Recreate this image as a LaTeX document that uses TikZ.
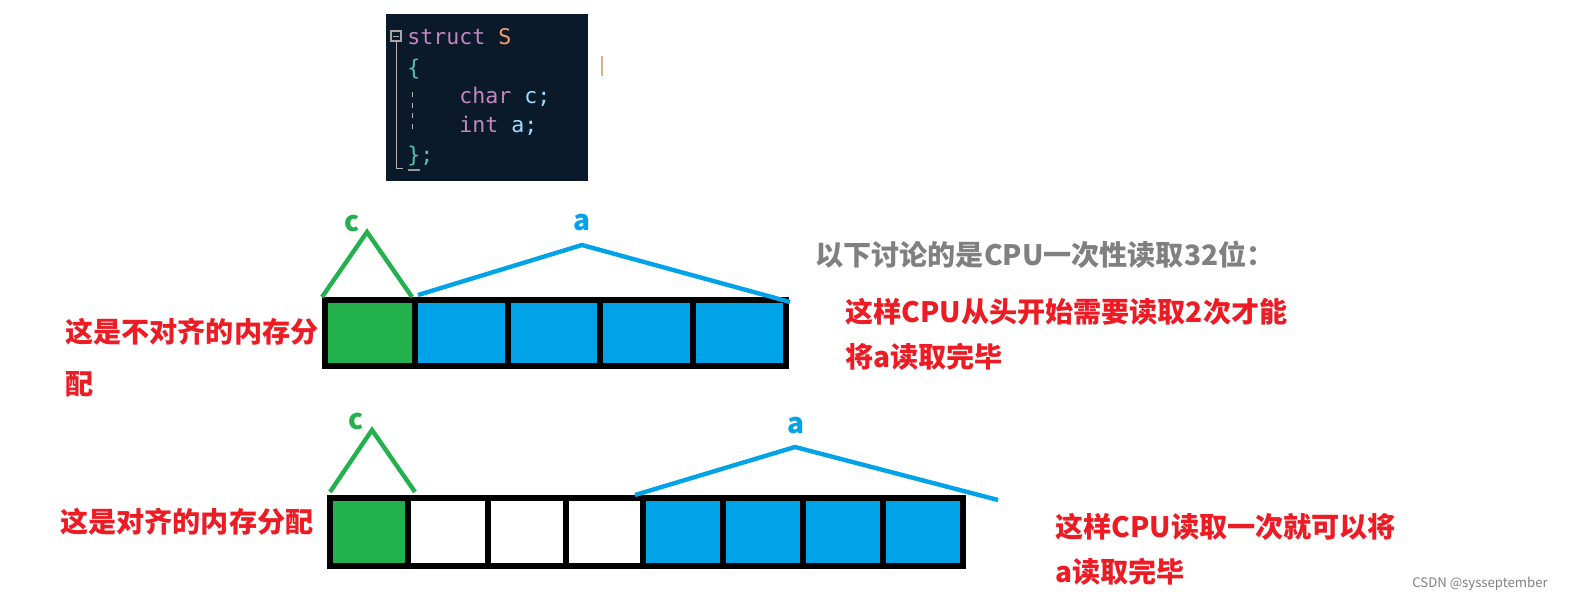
\documentclass[tikz,border=0pt]{standalone}
\usepackage{fontspec}
\newfontfamily\cjk{Noto Sans CJK SC}
\newfontfamily\mono{DejaVu Sans Mono}
\definecolor{gr}{HTML}{22B14C}
\definecolor{bl}{HTML}{00A2E8}
\definecolor{rd}{HTML}{ED1C24}
\definecolor{codebg}{HTML}{0B1A2A}
\definecolor{kw}{HTML}{C586C0}
\definecolor{id}{HTML}{9CDCFE}
\definecolor{br}{HTML}{4EC9B0}
\definecolor{sn}{HTML}{F0A070}
\begin{document}
\begin{tikzpicture}[x=0.02cm,y=-0.02cm,
  cell/.style={draw=black,line width=3.5pt},
  lbl/.style={font=\cjk\bfseries\fontsize{16pt}{18pt}\selectfont,anchor=west,inner sep=0},
  code/.style={font=\mono\fontsize{12.3pt}{14pt}\selectfont,anchor=west,inner sep=0}]
% code box
\fill[codebg] (386,14) rectangle (588,181);
\draw[gray!70,line width=0.6pt] (391,31) rectangle (401,41); \draw[gray!70] (393,36)--(399,36);
\draw[gray!60] (396,41)--(396,168)--(403,168);
\draw[gray!60,dashed] (412,92)--(412,132);
\node[code] (l1) at (407,37) {\textcolor{kw}{struct} \textcolor{sn}{S}};
\node[code] (l2) at (407,69) {\textcolor{br}{\{}};
\node[code] (l3) at (459,97) {\textcolor{kw}{char} \textcolor{id}{c;}};
\node[code] (l4) at (459,126) {\textcolor{kw}{int} \textcolor{id}{a;}};
\node[code] (l5) at (407,156) {\textcolor{br}{\};}};
\draw[gray!80,line width=1pt] (408,170)--(420,170);
\draw[brown!60,line width=1pt] (602,56)--(602,76);
% row 1
\foreach \a/\b/\c [count=\i] in {322/412/gr,412/505/bl,505/597/bl,597/690/bl,690/783/bl}
  \node[cell,fill=\c,minimum width=(\b-\a)*0.02cm,minimum height=66*0.02cm,inner sep=0,anchor=north west] (r1\i) at (\a,297) {};
\coordinate (c1) at (367,232);
\draw[gr,line width=2.5pt] (322,297)--(c1)--(412,297);
\coordinate (a1) at (582,245);
\draw[bl,line width=2.5pt] (418,295)--(a1)--(790,302);
\node[lbl,gr,anchor=center] (tc1) at (352,224) {c};
\node[lbl,bl,anchor=center] (ta1) at (582,222) {a};
% row 2
\foreach \a/\b/\c [count=\i] in {327/405/gr,405/485/white,485/563/white,563/640/white,640/720/bl,720/800/bl,800/880/bl,880/960/bl}
  \node[cell,fill=\c,minimum width=(\b-\a)*0.02cm,minimum height=68*0.02cm,inner sep=0,anchor=north west] (r2\i) at (\a,495) {};
\coordinate (c2) at (372,430);
\draw[gr,line width=2.5pt] (330,492)--(c2)--(415,492);
\coordinate (a2) at (795,447);
\draw[bl,line width=2.5pt] (635,495)--(a2)--(998,500);
\node[lbl,gr,anchor=center] (tc2) at (356,421) {c};
\node[lbl,bl,anchor=center] (ta2) at (796,425) {a};
% texts
\node[lbl,rd] (t1) at (65,332) {这是不对齐的内存分};
\node[lbl,rd] (t2) at (65,384) {配};
\node[lbl,gray] (t3) at (815,255) {以下讨论的是CPU一次性读取32位：};
\node[lbl,rd] (t4) at (845,312) {这样CPU从头开始需要读取2次才能};
\node[lbl,rd] (t5) at (845,357) {将a读取完毕};
\node[lbl,rd] (t6) at (60,522) {这是对齐的内存分配};
\node[lbl,rd] (t7) at (1055,527) {这样CPU读取一次就可以将};
\node[lbl,rd] (t8) at (1055,572) {a读取完毕};
\node[anchor=east,inner sep=0,font=\cjk\fontsize{7.5pt}{9pt}\selectfont,gray] (wm) at (1548,584) {CSDN @sysseptember};
\pgfresetboundingbox
\useasboundingbox (0,0) rectangle (1593,612);
\end{tikzpicture}
\end{document}
